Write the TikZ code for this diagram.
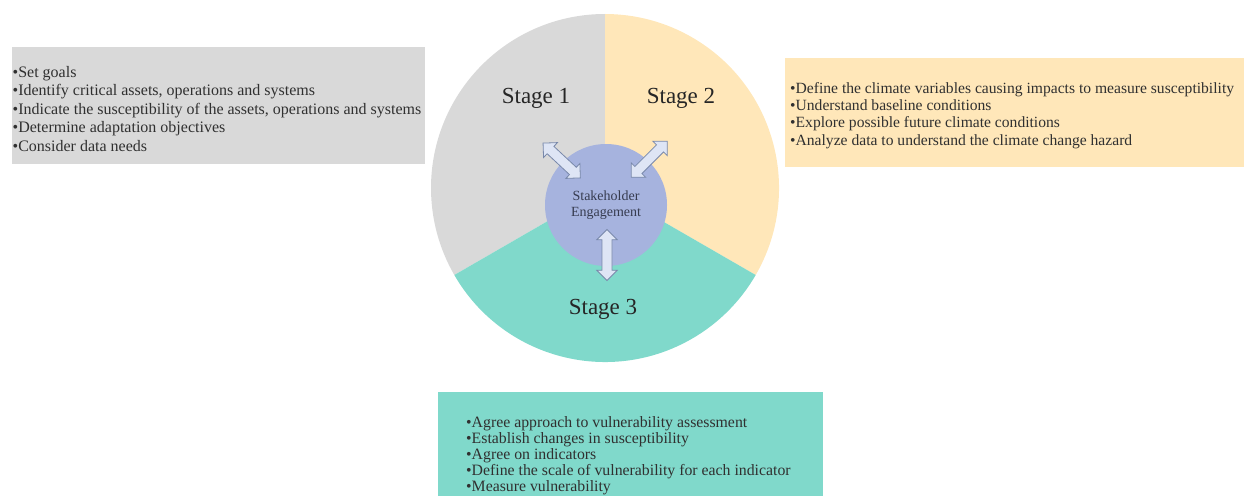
\documentclass[tikz,border=0pt]{standalone}
\usepackage{fontspec}
\setmainfont{Liberation Serif}
\usetikzlibrary{shapes.arrows}

\definecolor{stagegray}{RGB}{217,217,217}
\definecolor{stageyellow}{RGB}{255,231,185}
\definecolor{stageteal}{RGB}{128,217,203}
\definecolor{hubblue}{RGB}{166,179,222}
\definecolor{arrowfill}{RGB}{222,229,245}
\definecolor{arrowline}{RGB}{120,136,170}
\definecolor{inktext}{RGB}{48,48,48}
\definecolor{hubtext}{RGB}{55,60,80}

\tikzset{
  listbox/.style={anchor=north west, inner sep=0, outer sep=0},
  listline/.style={anchor=base west, inner sep=0, text=inktext},
  stagelabel/.style={inner sep=0, text={rgb,255:red,38;green,38;blue,38}, font=\fontsize{23}{26}\selectfont},
  hubarrow/.style={double arrow, fill=arrowfill, draw=arrowline, line width=0.8pt,
    inner xsep=0pt, inner ysep=4.6pt, double arrow head extend=5.2pt,
    double arrow tip angle=90, minimum height=51pt},
}

\begin{document}
\begin{tikzpicture}[x=1pt,y=1pt]
  \useasboundingbox (0,0) rectangle (1244,-495);
  \clip (0,0) rectangle (1244,-495);

  % three-stage wheel
  \coordinate (wheel) at (605,-188);
  \fill[stagegray]   (wheel) -- ++(90:174)  arc[start angle=90,  end angle=210, radius=174] -- cycle;
  \fill[stageyellow] (wheel) -- ++(-30:174) arc[start angle=-30, end angle=90,  radius=174] -- cycle;
  \fill[stageteal]   (wheel) -- ++(210:174) arc[start angle=210, end angle=330, radius=174] -- cycle;

  \node[stagelabel] (st1) at (536,-98) {Stage 1};
  \node[stagelabel] (st2) at (681,-98) {Stage 2};
  \node[stagelabel] (st3) at (603,-309) {Stage 3};

  % central hub
  \node[circle, fill=hubblue, minimum size=122pt, inner sep=0, text=hubtext,
        align=center, font=\fontsize{14}{15.5}\selectfont] (hub) at (606,-205)
        {Stakeholder\\Engagement};

  % two-way arrows between hub and stages
  \node[hubarrow, rotate=-43] (arrUL) at (561.7,-160.5) {};
  \node[hubarrow, rotate=45]  (arrUR) at (649.2,-159.2) {};
  \node[hubarrow, rotate=90]  (arrB)  at (607,-255) {};

  % Stage 1 task list
  \node[listbox, fill=stagegray, minimum width=413.5pt, minimum height=116.5pt] (box1) at (11.7,-47.3) {};
  \foreach \t [count=\i] in {{Set goals},
      {Identify critical assets, operations and systems},
      {Indicate the susceptibility of the assets, operations and systems},
      {Determine adaptation objectives},
      {Consider data needs}}
    \node[listline, font=\fontsize{16}{18.4}\selectfont] (one\i) at (12.5,{-77.5-18.4*(\i-1)}) {•\t};

  % Stage 2 task list
  \node[listbox, fill=stageyellow, minimum width=460pt, minimum height=108.4pt] (box2) at (785,-58.3) {};
  \foreach \t [count=\i] in {{Define the climate variables causing impacts to measure susceptibility},
      {Understand baseline conditions},
      {Explore possible future climate conditions},
      {Analyze data to understand the climate change hazard}}
    \node[listline, font=\fontsize{15.6}{17.3}\selectfont] (two\i) at (790,{-93.3-17.3*(\i-1)}) {•\t};

  % Stage 3 task list
  \node[listbox, fill=stageteal, minimum width=385pt, minimum height=125pt] (box3) at (438.3,-391.7) {};
  \foreach \t [count=\i] in {{Agree approach to vulnerability assessment},
      {Establish changes in susceptibility},
      {Agree on indicators},
      {Define the scale of vulnerability for each indicator},
      {Measure vulnerability}}
    \node[listline, font=\fontsize{15.8}{16}\selectfont] (three\i) at (466,{-427.7-16*(\i-1)}) {•\t};
\end{tikzpicture}
\end{document}
